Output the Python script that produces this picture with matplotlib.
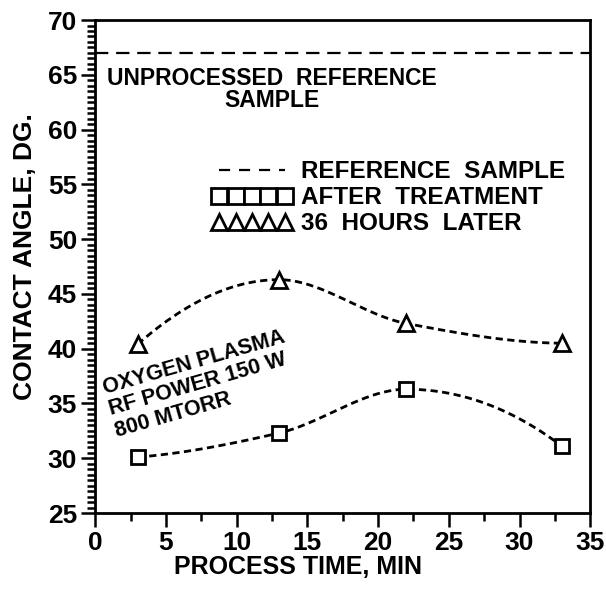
import numpy as np
import matplotlib.pyplot as plt
from matplotlib.ticker import MultipleLocator
from matplotlib.lines import Line2D

plt.rcParams['font.family'] = ['Liberation Sans', 'DejaVu Sans']
plt.rcParams['font.weight'] = 'bold'

# Data
time_min = [3, 13, 22, 33]
after_treatment = [30.1, 32.3, 36.3, 31.1]
hours_36_later = [40.4, 46.3, 42.3, 40.5]
reference_angle = 67.0


def pchip(x, y, xs):
    # shape preserving cubic (Fritsch-Carlson), used only to draw the smooth guide curve
    x = np.asarray(x, float)
    y = np.asarray(y, float)
    h = np.diff(x)
    d = np.diff(y) / h
    m = np.zeros_like(y)
    for k in range(1, len(x) - 1):
        if d[k - 1] * d[k] > 0:
            w1 = 2 * h[k] + h[k - 1]
            w2 = h[k] + 2 * h[k - 1]
            m[k] = (w1 + w2) / (w1 / d[k - 1] + w2 / d[k])
    m[0] = ((2 * h[0] + h[1]) * d[0] - h[0] * d[1]) / (h[0] + h[1])
    if np.sign(m[0]) != np.sign(d[0]):
        m[0] = 0
    m[-1] = ((2 * h[-1] + h[-2]) * d[-1] - h[-1] * d[-2]) / (h[-1] + h[-2])
    if np.sign(m[-1]) != np.sign(d[-1]):
        m[-1] = 0
    ys = np.empty_like(xs)
    for i, xv in enumerate(xs):
        k = min(np.searchsorted(x, xv, side='right') - 1, len(x) - 2)
        k = max(k, 0)
        t = (xv - x[k]) / h[k]
        h00 = 2 * t**3 - 3 * t**2 + 1
        h10 = t**3 - 2 * t**2 + t
        h01 = -2 * t**3 + 3 * t**2
        h11 = t**3 - t**2
        ys[i] = h00 * y[k] + h10 * h[k] * m[k] + h01 * y[k + 1] + h11 * h[k] * m[k + 1]
    return ys


fig = plt.figure(figsize=(6.06, 5.89), dpi=100)
ax = fig.add_axes([0.157, 0.129, 0.817, 0.837])

xs = np.linspace(time_min[0], time_min[-1], 300)
for ys, mk, ms in [(after_treatment, 's', 10.5), (hours_36_later, '^', 12)]:
    ax.plot(xs, pchip(time_min, ys, xs), color='black', lw=2.0,
            dashes=(2.6, 1.6))
    ax.plot(time_min, ys, linestyle='none', marker=mk, ms=ms,
            mfc='white', mec='black', mew=2.0, zorder=3)

ax.axhline(reference_angle, color='black', lw=1.6, dashes=(6, 3.5))

ax.text(12.5, 65.7, 'UNPROCESSED  REFERENCE\nSAMPLE', ha='center', va='top',
        fontsize=16.5, fontweight='bold', linespacing=0.95)

ax.text(1.0, 34.4, 'OXYGEN PLASMA\nRF POWER 150 W\n800 MTORR', ha='left',
        va='center', rotation=16, rotation_mode='anchor', fontsize=15.5,
        fontweight='bold', linespacing=1.08)

handles = [
    Line2D([], [], color='black', lw=1.6, dashes=(5, 4)),
    Line2D([], [], linestyle='none', marker='s', ms=12, mfc='white',
           mec='black', mew=2.0),
    Line2D([], [], linestyle='none', marker='^', ms=12, mfc='white',
           mec='black', mew=2.0),
]
labels = ['REFERENCE  SAMPLE', 'AFTER  TREATMENT', '36  HOURS  LATER']
ax.legend(handles, labels, loc='upper left', bbox_to_anchor=(0.236, 0.716),
          frameon=False, numpoints=5, handlelength=3.3, handletextpad=0.35,
          labelspacing=0.13, borderpad=0, borderaxespad=0,
          prop={'size': 17.5, 'weight': 'bold'})

ax.set_xlim(0, 35)
ax.set_ylim(25, 70)
ax.xaxis.set_major_locator(MultipleLocator(5))
ax.xaxis.set_minor_locator(MultipleLocator(2.5))
ax.yaxis.set_major_locator(MultipleLocator(5))
ax.yaxis.set_minor_locator(MultipleLocator(0.5))
ax.tick_params(which='both', direction='out', width=1.8, labelsize=19,
               top=False, right=False)
ax.tick_params(which='major', length=10, pad=3)
ax.tick_params(which='minor', length=6)
for lab in ax.get_xticklabels() + ax.get_yticklabels():
    lab.set_fontweight('bold')
for sp in ax.spines.values():
    sp.set_linewidth(2.0)

ax.set_xlabel('PROCESS TIME, MIN', fontsize=18, fontweight='bold')
ax.xaxis.set_label_coords(0.41, -0.085)
ax.set_ylabel('CONTACT ANGLE, DG.', fontsize=19, fontweight='bold')
ax.yaxis.set_label_coords(-0.117, 0.52)

fig.savefig('out.png', dpi=100)
